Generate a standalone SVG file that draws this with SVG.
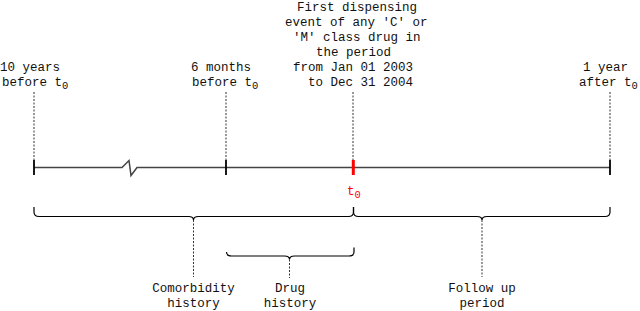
<svg xmlns="http://www.w3.org/2000/svg" width="640" height="311" viewBox="0 0 640 311">
<style>
text{font-family:"Liberation Mono","DejaVu Sans Mono",monospace;font-size:12.5px;fill:#111}
.sub{font-size:10.5px}
.red{fill:#f00}
.dot{stroke:#333;stroke-width:1;stroke-dasharray:2 1.5;fill:none}
.tick{stroke:#000;stroke-width:1.8}
.brace{stroke:#000;stroke-width:1.2;fill:none}
</style>
<rect width="640" height="311" fill="#fff"/>
<g id="connectors">
<line class="dot" x1="34" y1="92" x2="34" y2="160"/>
<line class="dot" x1="226" y1="92" x2="226" y2="160"/>
<line class="dot" x1="353" y1="92" x2="353" y2="160"/>
<line class="dot" x1="610" y1="92" x2="610" y2="160"/>
<path d="M34,167.5 L122,167.5 L129,160.5 L131,175.5 L137,167.5 L610,167.5" fill="none" stroke="#444" stroke-width="1.5"/>
<line class="tick" x1="34" y1="160" x2="34" y2="175"/>
<line class="tick" x1="226" y1="160" x2="226" y2="175"/>
<line class="tick" x1="610" y1="160" x2="610" y2="175"/>
<line x1="353.3" y1="160" x2="353.3" y2="175" stroke="#f00" stroke-width="3"/>
<path class="brace" d="M34,207 L34,212 Q34,216.5 39,216.5 L188.5,216.5 Q193.5,216.5 193.5,220 Q193.5,216.5 198.5,216.5 L348.5,216.5 Q353.5,216.5 353.5,212 L353.5,207"/>
<path class="brace" d="M353.5,207 L353.5,212 Q353.5,216.5 358.5,216.5 L477,216.5 Q482,216.5 482,220 Q482,216.5 487,216.5 L605,216.5 Q610,216.5 610,212 L610,207"/>
<path class="brace" d="M226.5,252 Q226.5,256 231.5,256 L284.5,256 Q289.5,256 289.5,259.5 Q289.5,256 294.5,256 L349,256 Q354,256 354,252 L354,247.5"/>
<line class="dot" x1="193.5" y1="220" x2="193.5" y2="277"/>
<line class="dot" x1="289.5" y1="259.5" x2="289.5" y2="278"/>
<line class="dot" x1="482" y1="220" x2="482" y2="277"/>
</g>
<g id="label-10years">
<text x="0" y="71">10 years</text>
<text x="2" y="86">before t<tspan class="sub" dy="3">0</tspan></text>
</g>
<g id="label-6months">
<text x="191" y="71">6 months</text>
<text x="192" y="86">before t<tspan class="sub" dy="3">0</tspan></text>
</g>
<g id="label-event">
<text x="297" y="11">First dispensing</text>
<text x="285" y="26">event of any 'C' or</text>
<text x="293" y="41">'M' class drug in</text>
<text x="316" y="56">the period</text>
<text x="293" y="71">from Jan 01 2003</text>
<text x="308" y="86">to Dec 31 2004</text>
</g>
<g id="label-1year">
<text x="583" y="71">1 year</text>
<text x="579" y="86">after t<tspan class="sub" dy="3">0</tspan></text>
</g>
<g id="label-t0">
<text class="red" x="347" y="195">t<tspan class="sub red" dy="3">0</tspan></text>
</g>
<g id="label-comorbidity">
<text x="193.5" y="292" text-anchor="middle">Comorbidity</text>
<text x="193.5" y="307" text-anchor="middle">history</text>
</g>
<g id="label-drug">
<text x="290" y="292" text-anchor="middle">Drug</text>
<text x="290" y="307" text-anchor="middle">history</text>
</g>
<g id="label-followup">
<text x="482" y="292" text-anchor="middle">Follow up</text>
<text x="482" y="307" text-anchor="middle">period</text>
</g>
</svg>
